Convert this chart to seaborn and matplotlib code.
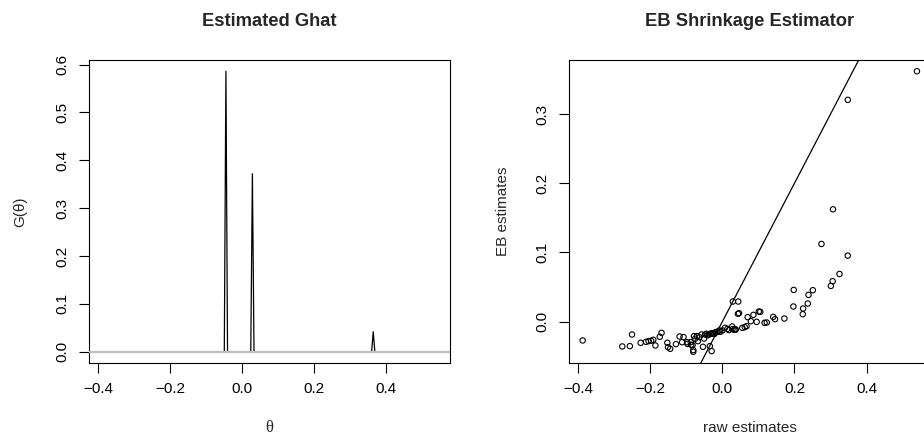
import matplotlib
matplotlib.use("Agg")
import matplotlib.pyplot as plt
import seaborn as sns
import numpy as np
import pandas as pd
from matplotlib.ticker import FuncFormatter

# ---- data: estimated mixing distribution G(theta) on a grid ----
theta_grid = [-0.388, -0.0495, -0.045, -0.0405, 0.0240, 0.0285, 0.0330,
              0.3595, 0.364, 0.3685, 0.540]
G_vals = [0.0, 0.0, 0.586, 0.0, 0.0, 0.372, 0.0, 0.0, 0.042, 0.0, 0.0]

# ---- data: raw vs EB shrinkage estimates ----
raw_est = [-0.388, -0.278, -0.257, -0.251, -0.227, -0.212, -0.205, -0.198, -0.192,
           -0.186, -0.174, -0.169, -0.153, -0.151, -0.145, -0.129, -0.119, -0.108,
           -0.112, -0.098, -0.087, -0.081, -0.081, -0.097, -0.088, -0.083, -0.079,
           -0.076, -0.071, -0.068, -0.064, -0.058, -0.054, -0.051, -0.048, -0.044,
           -0.041, -0.037, -0.035, -0.033, -0.030, -0.030, -0.026, -0.022, -0.019,
           -0.014, -0.009, -0.006, 0.000, 0.007, 0.014, 0.018, 0.028, 0.037,
           0.027, 0.029, 0.033, 0.036, 0.044, 0.043, 0.046, 0.055, 0.062, 0.067,
           0.070, 0.079, 0.086, 0.095, 0.101, 0.105, 0.117, 0.123, 0.141, 0.146,
           0.172, 0.198, 0.197, 0.223, 0.224, 0.237, 0.239, 0.251, 0.275, 0.301,
           0.306, 0.307, 0.325, 0.348, 0.348, 0.540]
eb_est = [-0.0274, -0.0361, -0.0356, -0.0188, -0.0308, -0.0294, -0.0284, -0.0279, -0.0265,
          -0.0347, -0.0221, -0.0164, -0.0308, -0.0371, -0.0395, -0.0327, -0.0217, -0.0226,
          -0.0299, -0.0299, -0.0337, -0.0414, -0.0438, -0.0323, -0.0299, -0.0342, -0.0212,
          -0.0250, -0.0212, -0.0284, -0.0226, -0.0188, -0.0366, -0.0246, -0.0188, -0.0178,
          -0.0198, -0.0188, -0.0356, -0.0178, -0.0169, -0.0428, -0.0173, -0.0178, -0.0154,
          -0.0149, -0.0130, -0.0149, -0.0130, -0.0091, -0.0106, -0.0125, -0.0111, -0.0116,
          -0.0072, 0.0289, -0.0120, -0.0116, 0.0289, 0.0111, 0.0120, -0.0092, -0.0082, -0.0067,
          0.0063, 0.0005, 0.0096, -0.0005, 0.0144, 0.0140, -0.0019, -0.0014, 0.0067, 0.0034,
          0.0043, 0.0457, 0.0217, 0.0106, 0.0188, 0.0260, 0.0385, 0.0453, 0.1122, 0.0515,
          0.0583, 0.1623, 0.0688, 0.0953, 0.3207, 0.3621]

x_ticks = [-0.4, -0.2, 0.0, 0.2, 0.4]
y_ticks_left = [0.0, 0.1, 0.2, 0.3, 0.4, 0.5, 0.6]
y_ticks_right = [0.0, 0.1, 0.2, 0.3]

sns.set_theme(style="ticks")
plt.rcParams['font.family'] = ['Liberation Sans', 'DejaVu Sans']
plt.rcParams['axes.linewidth'] = 0.8

W, H = 924, 437
fig = plt.figure(figsize=(W / 100, H / 100), dpi=100)

def rlim(vals):
    lo, hi = min(vals), max(vals)
    r = hi - lo
    return lo - 0.04 * r, hi + 0.04 * r

fmt = FuncFormatter(lambda v, p: ("%.1f" % v).replace("-", "\u2212"))

ax_w = 361 / W
ax_h = 303 / H
ax_b = (H - 363) / H
ax1 = fig.add_axes([89 / W, ax_b, ax_w, ax_h])
ax2 = fig.add_axes([569.3 / W, ax_b, ax_w, ax_h])

for ax in (ax1, ax2):
    for s in ax.spines.values():
        s.set_visible(True)
        s.set_color("black")
        s.set_linewidth(0.8)
    ax.tick_params(axis="both", direction="out", length=7, width=0.8,
                   colors="black", labelsize=11, pad=7)
    ax.tick_params(axis="y", labelrotation=90)
    ax.set_facecolor("white")
    ax.grid(False)

# ---- left panel ----
dfG = pd.DataFrame({"theta": theta_grid, "G": G_vals})
sns.lineplot(data=dfG, x="theta", y="G", ax=ax1, color="black", lw=0.9,
             sort=False, estimator=None, zorder=2)
ax1.axhline(0, color="#BEBEBE", lw=1.6, zorder=3)
ax1.set_xlim(*rlim(theta_grid))
ax1.set_ylim(*rlim(G_vals))
ax1.set_xticks(x_ticks)
ax1.set_yticks(y_ticks_left)

# ---- right panel ----
dfE = pd.DataFrame({"raw": raw_est, "eb": eb_est})
sns.scatterplot(data=dfE, x="raw", y="eb", ax=ax2, marker="o", s=15,
                facecolor="none", edgecolor="black", linewidth=0.8, zorder=3)
ax2.axline((0, 0), slope=1, color="black", lw=0.9, zorder=2)
ax2.set_xlim(*rlim(raw_est))
ax2.set_ylim(*rlim(eb_est))
ax2.set_xticks(x_ticks)
ax2.set_yticks(y_ticks_right)

for ax in (ax1, ax2):
    ax.xaxis.set_major_formatter(fmt)
    ax.yaxis.set_major_formatter(fmt)
    for lab in ax.get_yticklabels():
        lab.set_va("center")

# titles
ax1.text(0.5, 1 + (60 - 22) / 303, "Estimated Ghat", transform=ax1.transAxes,
         ha="center", va="center", fontsize=13.2, fontweight="bold")
ax2.text(0.5, 1 + (60 - 22) / 303, "EB Shrinkage Estimator", transform=ax2.transAxes,
         ha="center", va="center", fontsize=13.2, fontweight="bold")

# axis labels
ax1.set_xlabel("θ", fontsize=12, family=["Liberation Serif", "DejaVu Serif"])
ax1.set_ylabel("G(θ)", fontsize=11)
ax2.set_xlabel("raw estimates", fontsize=11)
ax2.set_ylabel("EB estimates", fontsize=11)
for ax, yx in ((ax1, -(89 - 20) / 361), (ax2, -(569.3 - 503) / 361)):
    ax.xaxis.set_label_coords(0.5, -(428 - 363) / 303)
    ax.xaxis.label.set_va("center")
    ax.yaxis.set_label_coords(yx, 0.5)
    ax.yaxis.label.set_va("center")

fig.savefig("out.png", dpi=100, facecolor="white")
